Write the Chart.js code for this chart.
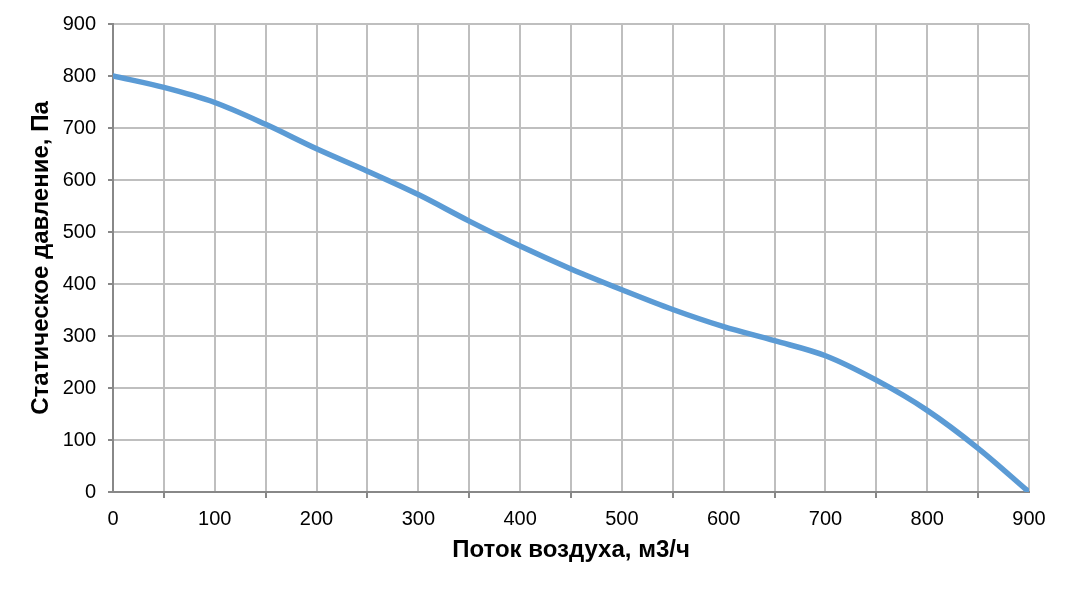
<!DOCTYPE html>
<html>
<head>
<meta charset="utf-8">
<script src="https://cdn.jsdelivr.net/npm/chart.js@4/dist/chart.umd.min.js"></script>
<style>
  html, body { margin: 0; padding: 0; background: #fff; }
  #wrap { width: 1069px; height: 590px; }
</style>
</head>
<body>
<div id="wrap"><canvas id="chart"></canvas></div>
<script>
// airflow, m3/h
const flow = [0, 50, 100, 150, 200, 250, 300, 350, 400, 450, 500, 550, 600, 650, 700, 750, 800, 850, 900];
// static pressure, Pa
const pressure = [800, 778, 749, 707, 660, 617, 572, 521, 473, 429, 389, 351, 318, 291, 262, 215, 157, 84, 0];

const xTitle = 'Поток воздуха, м3/ч';
const yTitle = 'Статическое давление, Па';

const points = flow.map((x, i) => ({ x: x, y: pressure[i] }));

const tickFont = { family: 'Liberation Sans, Arial, sans-serif', size: 20 };
const titleFont = { family: 'Liberation Sans, Arial, sans-serif', size: 24, weight: 'bold' };

new Chart(document.getElementById('chart'), {
    type: 'scatter',
    data: {
        datasets: [{
            data: points,
            showLine: true,
            borderColor: '#5B9BD5',
            borderWidth: 5.5,
            pointRadius: 0,
            tension: 0.4,
            cubicInterpolationMode: 'monotone',
            borderCapStyle: 'round'
        }]
    },
    options: {
        responsive: true,
        maintainAspectRatio: false,
        animation: false,
        layout: { padding: { top: 21, right: 40, left: 0, bottom: 0 } },
        plugins: { legend: { display: false }, tooltip: { enabled: false } },
        scales: {
            x: {
                type: 'linear',
                min: 0,
                max: 900,
                afterFit: (scale) => { scale.height = 98; },
                ticks: {
                    stepSize: 50,
                    autoSkip: false,
                    maxRotation: 0,
                    color: '#000',
                    font: tickFont,
                    padding: 9,
                    callback: (v) => v % 100 === 0 ? v : ''
                },
                grid: {
                    color: '#BFBFBF',
                    lineWidth: 2,
                    tickLength: 6,
                    tickColor: (ctx) => ctx.tick && ctx.tick.value % 100 === 50 ? '#888' : 'rgba(0,0,0,0)'
                },
                border: { color: '#888', width: 2 },
                title: { display: true, text: xTitle, color: '#000', font: titleFont, padding: { top: 4, bottom: 25 } }
            },
            y: {
                min: 0,
                max: 900,
                afterFit: (scale) => { scale.width = 113; },
                ticks: {
                    stepSize: 100,
                    color: '#000',
                    font: tickFont,
                    padding: 12
                },
                grid: {
                    color: '#BFBFBF',
                    lineWidth: 2,
                    tickLength: 5,
                    tickColor: '#888'
                },
                border: { color: '#888', width: 2 },
                title: { display: true, text: yTitle, color: '#000', font: titleFont, padding: { top: 27 } }
            }
        }
    }
});
</script>
</body>
</html>
